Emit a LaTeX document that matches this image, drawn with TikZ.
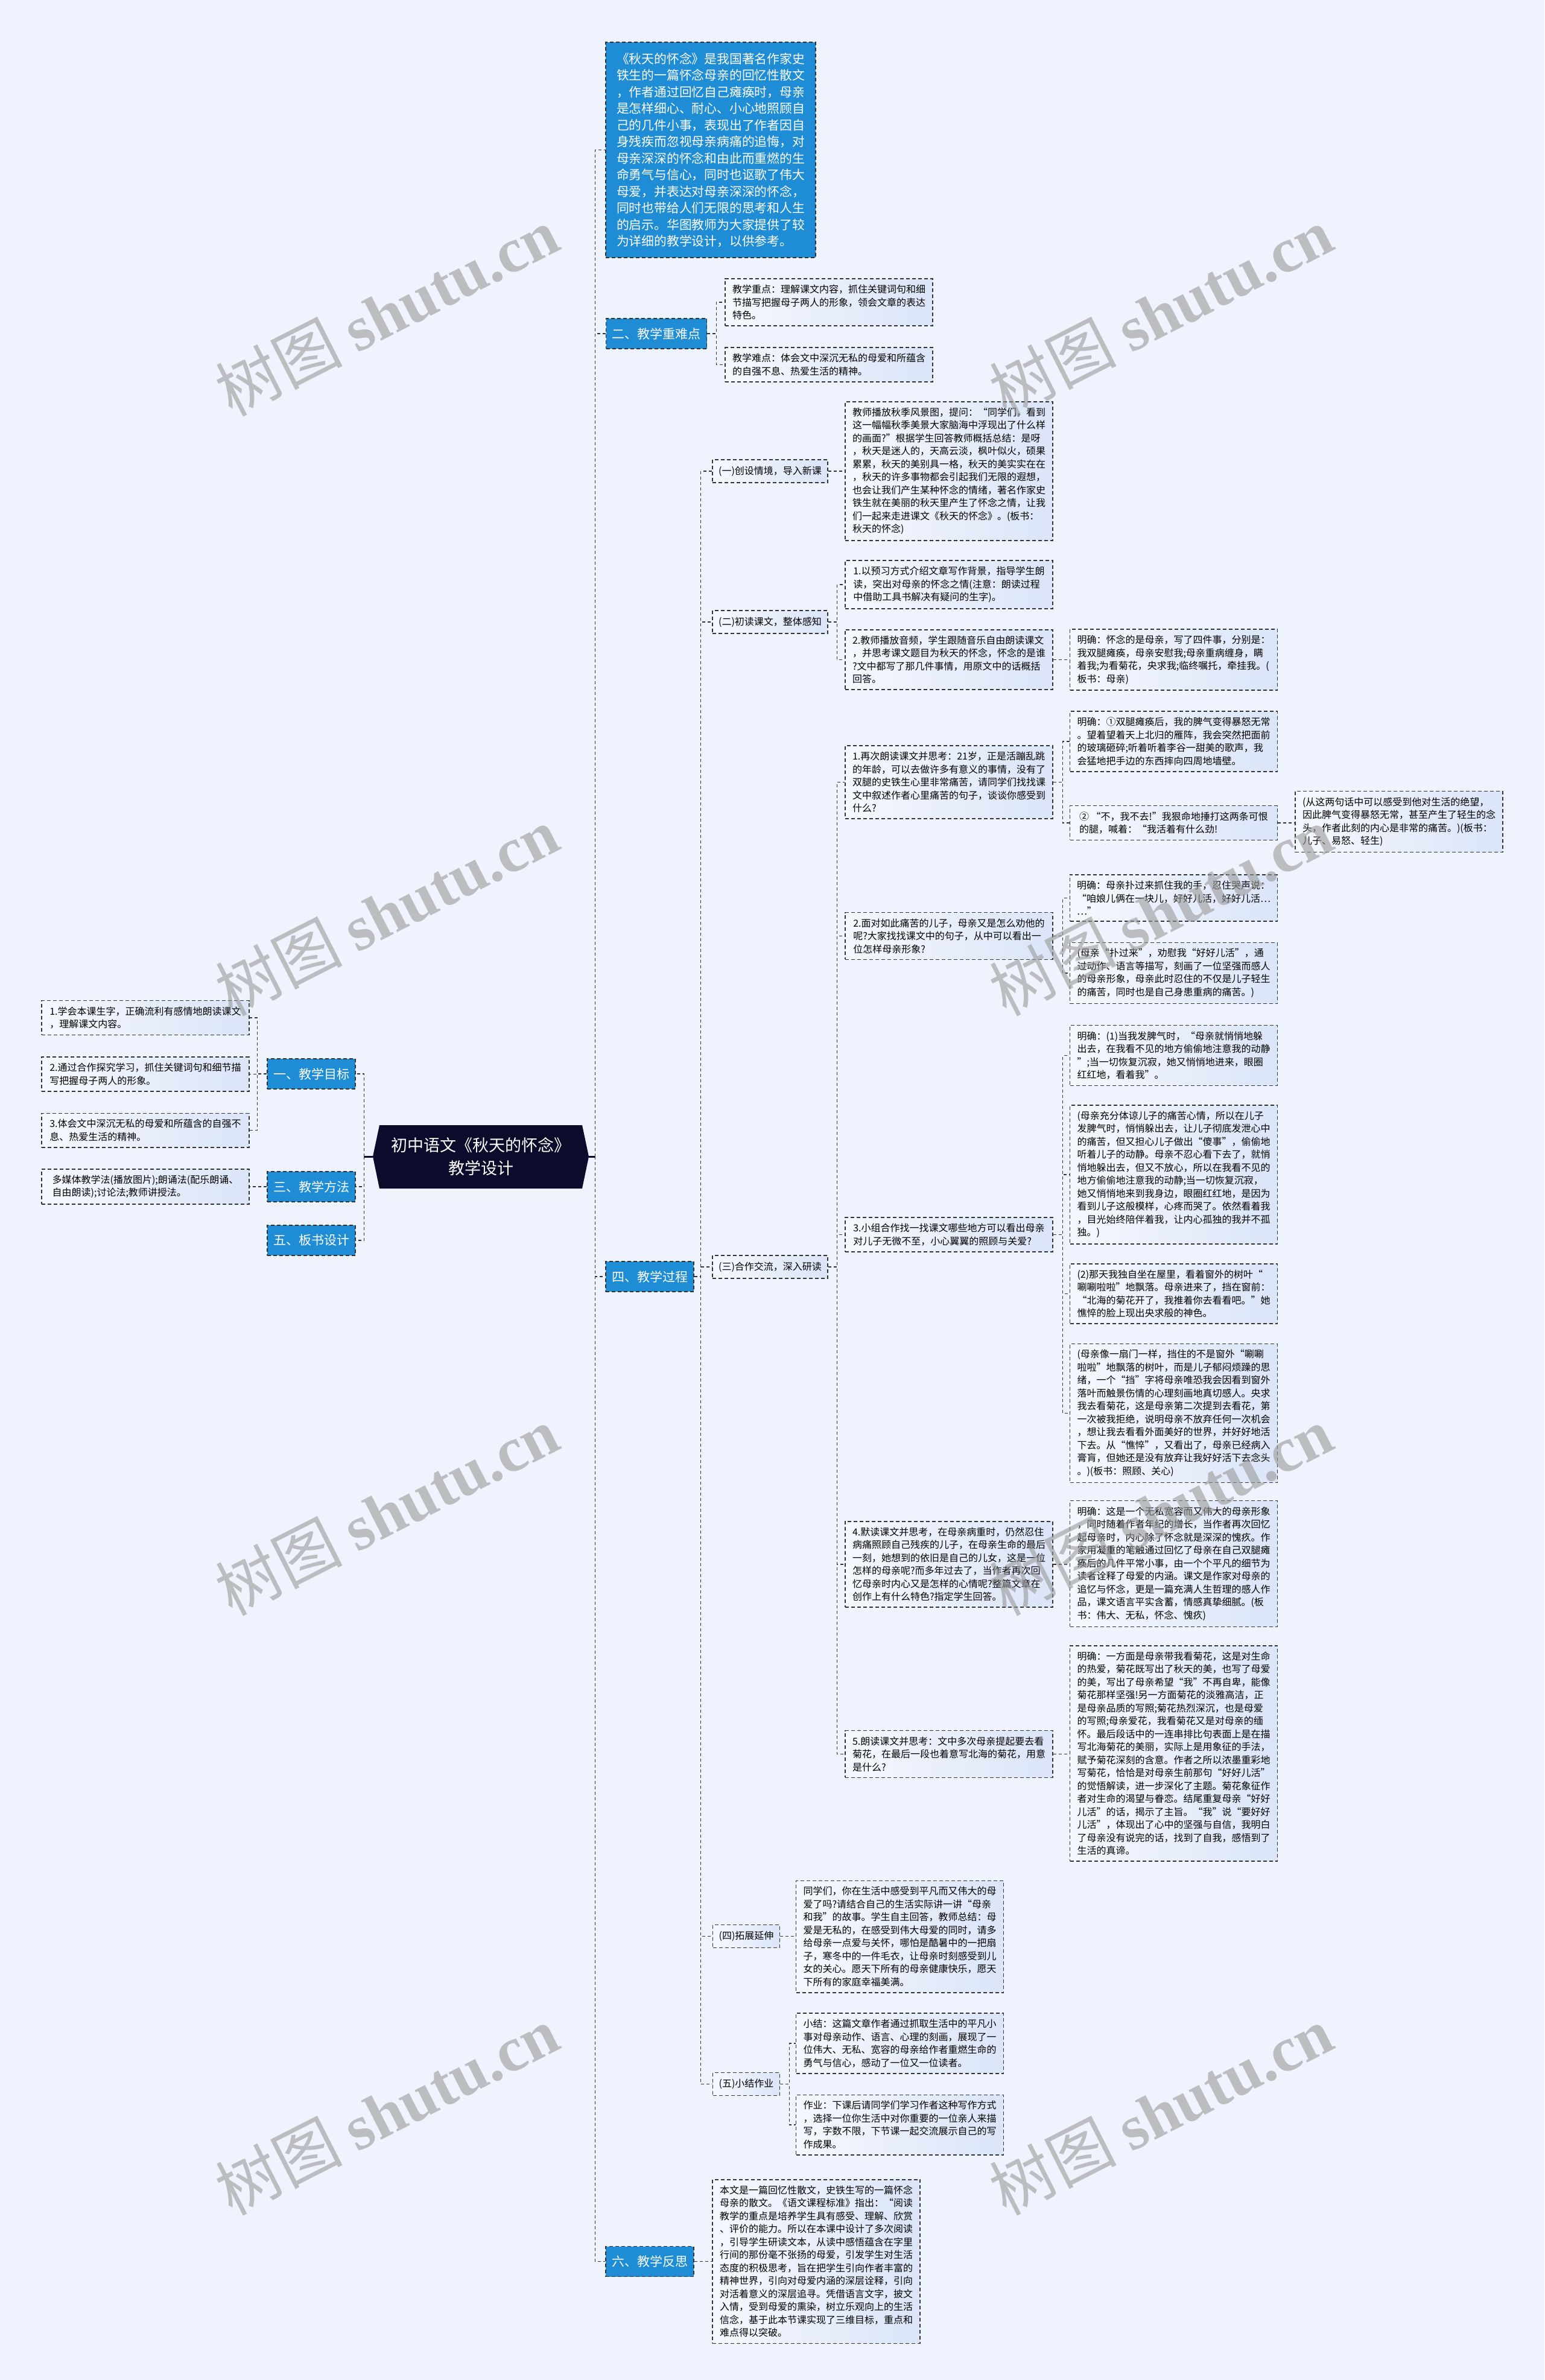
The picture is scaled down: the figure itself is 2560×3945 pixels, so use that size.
\documentclass[tikz,border=0pt]{standalone}
\usepackage{fontspec}
\setmainfont{Noto Sans CJK SC}
\newfontfamily\wmlat{Liberation Serif}
\definecolor{pagebg}{RGB}{238,243,253}
\definecolor{topicblue}{RGB}{31,141,214}
\definecolor{rootnavy}{RGB}{11,11,43}
\definecolor{noteA}{RGB}{245,248,254}
\definecolor{noteB}{RGB}{219,229,248}
\definecolor{dashgray}{RGB}{51,51,51}

\begin{document}
\begin{tikzpicture}[
  x=1pt, y=-1pt,
  font=\fontsize{16}{21.5}\selectfont,
  topicbox/.style={draw=dashgray, line width=1.6pt, dash pattern=on 6pt off 4pt,
              fill=topicblue, text=white, font=\fontsize{21}{26}\selectfont,
              inner xsep=10pt, minimum height=50pt},
  introbox/.style={topicbox, align=left, font=\fontsize{20.8}{27.5}\selectfont,
              minimum width=348pt, inner ysep=17pt},
  subbox/.style={draw=dashgray, line width=1.6pt, dash pattern=on 6pt off 4pt,
              left color=noteA, right color=noteB, inner xsep=10pt, minimum height=38pt},
  notebox/.style={subbox, align=left, minimum width=344pt, inner ysep=10pt},
  lnk/.style={dashgray, line width=1.3pt, dash pattern=on 5pt off 4pt},
  stemln/.style={rootnavy, line width=3pt},
  wm/.style={rotate=27, text=black!40, opacity=0.6, font=\fontsize{105}{105}\selectfont}
]
\fill[pagebg] (0,0) rectangle (2560,3945);
\useasboundingbox (0,0) rectangle (2560,3945);

\fill[rootnavy] (618,1917) -- (629,1865) -- (965,1865) -- (976,1917) -- (965,1970) -- (629,1970) -- cycle;
\node[text=white, align=center, font=\fontsize{27}{38}\selectfont, minimum width=358pt, minimum height=105pt] (root) at (797,1917) {初中语文《秋天的怀念》\\教学设计};

\node[introbox] (intro) at (1178,248.5) {《秋天的怀念》是我国著名作家史\\铁生的一篇怀念母亲的回忆性散文\\，作者通过回忆自己瘫痪时，母亲\\是怎样细心、耐心、小心地照顾自\\己的几件小事，表现出了作者因自\\身残疾而忽视母亲病痛的追悔，对\\母亲深深的怀念和由此而重燃的生\\命勇气与信心，同时也讴歌了伟大\\母爱，并表达对母亲深深的怀念，\\同时也带给人们无限的思考和人生\\的启示。华图教师为大家提供了较\\为详细的教学设计，以供参考。};
\node[topicbox] (t2) at (1088,553) {二、教学重难点};
\node[topicbox] (t4) at (1077,2116) {四、教学过程};
\node[topicbox] (t6) at (1077,3748.5) {六、教学反思};
\node[topicbox] (t1) at (516,1780) {一、教学目标};
\node[topicbox] (t3) at (516,1967) {三、教学方法};
\node[topicbox] (t5) at (516,2056) {五、板书设计};

\node[notebox] (g1) at (241,1687) {1.学会本课生字，正确流利有感情地朗读课文\\，理解课文内容。};
\node[notebox] (g2) at (241,1780.5) {2.通过合作探究学习，抓住关键词句和细节描\\写把握母子两人的形象。};
\node[notebox] (g3) at (241,1873.5) {3.体会文中深沉无私的母爱和所蕴含的自强不\\息、热爱生活的精神。};
\node[notebox] (m1) at (241,1967) {多媒体教学法(播放图片);朗诵法(配乐朗诵、\\自由朗读);讨论法;教师讲授法。};

\node[notebox] (k1) at (1374,501) {教学重点：理解课文内容，抓住关键词句和细\\节描写把握母子两人的形象，领会文章的表达\\特色。};
\node[notebox] (k2) at (1374,604.5) {教学难点：体会文中深沉无私的母爱和所蕴含\\的自强不息、热爱生活的精神。};

\node[subbox] (s1) at (1276.5,781) {(一)创设情境，导入新课};
\node[subbox] (s2) at (1276.5,1031) {(二)初读课文，整体感知};
\node[subbox] (s3) at (1276.5,2100) {(三)合作交流，深入研读};
\node[subbox] (s4) at (1237,3209.5) {(四)拓展延伸};
\node[subbox] (s5) at (1237,3454.5) {(五)小结作业};

\node[notebox] (n1) at (1573,781) {教师播放秋季风景图，提问：“同学们，看到\\这一幅幅秋季美景大家脑海中浮现出了什么样\\的画面?”根据学生回答教师概括总结：是呀\\，秋天是迷人的，天高云淡，枫叶似火，硕果\\累累，秋天的美别具一格，秋天的美实实在在\\，秋天的许多事物都会引起我们无限的遐想，\\也会让我们产生某种怀念的情绪，著名作家史\\铁生就在美丽的秋天里产生了怀念之情，让我\\们一起来走进课文《秋天的怀念》。(板书：\\秋天的怀念)};
\node[notebox] (n2a) at (1573,969) {1.以预习方式介绍文章写作背景，指导学生朗\\读，突出对母亲的怀念之情(注意：朗读过程\\中借助工具书解决有疑问的生字)。};
\node[notebox] (n2b) at (1573,1093.5) {2.教师播放音频，学生跟随音乐自由朗读课文\\，并思考课文题目为秋天的怀念，怀念的是谁\\?文中都写了那几件事情，用原文中的话概括\\回答。};
\node[notebox] (n2c) at (1945.5,1093.5) {明确：怀念的是母亲，写了四件事，分别是：\\我双腿瘫痪，母亲安慰我;母亲重病缠身，瞒\\着我;为看菊花，央求我;临终嘱托，牵挂我。(\\板书：母亲)};

\node[notebox] (q1) at (1573,1296.5) {1.再次朗读课文并思考：21岁，正是活蹦乱跳\\的年龄，可以去做许多有意义的事情，没有了\\双腿的史铁生心里非常痛苦，请同学们找找课\\文中叙述作者心里痛苦的句子，谈谈你感受到\\什么?};
\node[notebox] (q1a) at (1945.5,1229) {明确：①双腿瘫痪后，我的脾气变得暴怒无常\\。望着望着天上北归的雁阵，我会突然把面前\\的玻璃砸碎;听着听着李谷一甜美的歌声，我\\会猛地把手边的东西摔向四周地墙壁。};
\node[notebox] (q1b) at (1945.5,1364) {②~“不，我不去!”我狠命地捶打这两条可恨\\的腿，喊着：“我活着有什么劲!};
\node[notebox] (q1c) at (2319,1362) {(从这两句话中可以感受到他对生活的绝望，\\因此脾气变得暴怒无常，甚至产生了轻生的念\\头，作者此刻的内心是非常的痛苦。)(板书：\\儿子、易怒、轻生)};
\node[notebox] (q2) at (1573,1551.5) {2.面对如此痛苦的儿子，母亲又是怎么劝他的\\呢?大家找找课文中的句子，从中可以看出一\\位怎样母亲形象?};
\node[notebox] (q2a) at (1945.5,1488.5) {明确：母亲扑过来抓住我的手，忍住哭声说：\\“咱娘儿俩在一块儿，好好儿活，好好儿活…\\…”};
\node[notebox] (q2b) at (1945.5,1613) {(母亲“扑过来”，劝慰我“好好儿活”，通\\过动作、语言等描写，刻画了一位坚强而感人\\的母亲形象，母亲此时忍住的不仅是儿子轻生\\的痛苦，同时也是自己身患重病的痛苦。)};
\node[notebox] (q3) at (1573,2046.5) {3.小组合作找一找课文哪些地方可以看出母亲\\对儿子无微不至，小心翼翼的照顾与关爱?};
\node[notebox] (q3a) at (1945.5,1749.5) {明确：(1)当我发脾气时，“母亲就悄悄地躲\\出去，在我看不见的地方偷偷地注意我的动静\\”;当一切恢复沉寂，她又悄悄地进来，眼圈\\红红地，看着我”。};
\node[notebox] (q3b) at (1945.5,1947) {(母亲充分体谅儿子的痛苦心情，所以在儿子\\发脾气时，悄悄躲出去，让儿子彻底发泄心中\\的痛苦，但又担心儿子做出“傻事”，偷偷地\\听着儿子的动静。母亲不忍心看下去了，就悄\\悄地躲出去，但又不放心，所以在我看不见的\\地方偷偷地注意我的动静;当一切恢复沉寂，\\她又悄悄地来到我身边，眼圈红红地，是因为\\看到儿子这般模样，心疼而哭了。依然看着我\\，目光始终陪伴着我，让内心孤独的我并不孤\\独。)};
\node[notebox] (q3c) at (1945.5,2144.5) {(2)那天我独自坐在屋里，看着窗外的树叶“\\唰唰啦啦”地飘落。母亲进来了，挡在窗前：\\“北海的菊花开了，我推着你去看看吧。”她\\憔悴的脸上现出央求般的神色。};
\node[notebox] (q3d) at (1945.5,2342.5) {(母亲像一扇门一样，挡住的不是窗外“唰唰\\啦啦”地飘落的树叶，而是儿子郁闷烦躁的思\\绪，一个“挡”字将母亲唯恐我会因看到窗外\\落叶而触景伤情的心理刻画地真切感人。央求\\我去看菊花，这是母亲第二次提到去看花，第\\一次被我拒绝，说明母亲不放弃任何一次机会\\，想让我去看看外面美好的世界，并好好地活\\下去。从“憔悴”，又看出了，母亲已经病入\\膏肓，但她还是没有放弃让我好好活下去念头\\。)(板书：照顾、关心)};
\node[notebox] (q4) at (1573,2593) {4.默读课文并思考，在母亲病重时，仍然忍住\\病痛照顾自己残疾的儿子，在母亲生命的最后\\一刻，她想到的依旧是自己的儿女，这是一位\\怎样的母亲呢?而多年过去了，当作者再次回\\忆母亲时内心又是怎样的心情呢?整篇文章在\\创作上有什么特色?指定学生回答。};
\node[notebox] (q4a) at (1945.5,2592) {明确：这是一个无私宽容而又伟大的母亲形象\\，同时随着作者年纪的增长，当作者再次回忆\\起母亲时，内心除了怀念就是深深的愧疚。作\\家用凝重的笔触通过回忆了母亲在自己双腿瘫\\痪后的几件平常小事，由一个个平凡的细节为\\读者诠释了母爱的内涵。课文是作家对母亲的\\追忆与怀念，更是一篇充满人生哲理的感人作\\品，课文语言平实含蓄，情感真挚细腻。(板\\书：伟大、无私，怀念、愧疚)};
\node[notebox] (q5) at (1573,2907.5) {5.朗读课文并思考：文中多次母亲提起要去看\\菊花，在最后一段也着意写北海的菊花，用意\\是什么?};
\node[notebox] (q5a) at (1945.5,2906.5) {明确：一方面是母亲带我看菊花，这是对生命\\的热爱，菊花既写出了秋天的美，也写了母爱\\的美，写出了母亲希望“我”不再自卑，能像\\菊花那样坚强!另一方面菊花的淡雅高洁，正\\是母亲品质的写照;菊花热烈深沉，也是母爱\\的写照;母亲爱花，我看菊花又是对母亲的缅\\怀。最后段话中的一连串排比句表面上是在描\\写北海菊花的美丽，实际上是用象征的手法，\\赋予菊花深刻的含意。作者之所以浓墨重彩地\\写菊花，恰恰是对母亲生前那句“好好儿活”\\的觉悟解读，进一步深化了主题。菊花象征作\\者对生命的渴望与眷恋。结尾重复母亲“好好\\儿活”的话，揭示了主旨。“我”说“要好好\\儿活”，体现出了心中的坚强与自信，我明白\\了母亲没有说完的话，找到了自我，感悟到了\\生活的真谛。};

\node[notebox] (e4) at (1491.5,3210) {同学们，你在生活中感受到平凡而又伟大的母\\爱了吗?请结合自己的生活实际讲一讲“母亲\\和我”的故事。学生自主回答，教师总结：母\\爱是无私的，在感受到伟大母爱的同时，请多\\给母亲一点爱与关怀，哪怕是酷暑中的一把扇\\子，寒冬中的一件毛衣，让母亲时刻感受到儿\\女的关心。愿天下所有的母亲健康快乐，愿天\\下所有的家庭幸福美满。};
\node[notebox] (e5a) at (1491.5,3387) {小结：这篇文章作者通过抓取生活中的平凡小\\事对母亲动作、语言、心理的刻画，展现了一\\位伟大、无私、宽容的母亲给作者重燃生命的\\勇气与信心，感动了一位又一位读者。};
\node[notebox] (e5b) at (1491.5,3522) {作业：下课后请同学们学习作者这种写作方式\\，选择一位你生活中对你重要的一位亲人来描\\写，字数不限，下节课一起交流展示自己的写\\作成果。};
\node[notebox] (r6) at (1353,3748.5) {本文是一篇回忆性散文，史铁生写的一篇怀念\\母亲的散文。《语文课程标准》指出：“阅读\\教学的重点是培养学生具有感受、理解、欣赏\\、评价的能力。所以在本课中设计了多次阅读\\，引导学生研读文本，从读中感悟蕴含在字里\\行间的那份毫不张扬的母爱，引发学生对生活\\态度的积极思考，旨在把学生引向作者丰富的\\精神世界，引向对母爱内涵的深层诠释，引向\\对活着意义的深层追寻。凭借语言文字，披文\\入情，受到母爱的熏染，树立乐观向上的生活\\信念，基于此本节课实现了三维目标，重点和\\难点得以突破。};

\draw[stemln] (root.east) -- ++(10,0) coordinate (rj);
\draw[stemln] (root.west) -- ++(-14,0) coordinate (lj);
\draw[lnk] (rj) |- (intro.west);
\draw[lnk] (rj) |- (t2.west);
\draw[lnk] (rj) |- (t4.west);
\draw[lnk] (rj) |- (t6.west);
\draw[lnk] (lj) |- (t1.east);
\draw[lnk] (lj) |- (t3.east);
\draw[lnk] (lj) |- (t5.east);
\draw[lnk] (t1.west) -- ++(-16,0) |- (g1.east);
\draw[lnk] (t1.west) -- ++(-16,0) |- (g2.east);
\draw[lnk] (t1.west) -- ++(-16,0) |- (g3.east);
\draw[lnk] (t3.west) -- (t3.west -| m1.east);
\draw[lnk] (t2.east) -- ++(15,0) |- (k1.west);
\draw[lnk] (t2.east) -- ++(15,0) |- (k2.west);
\draw[lnk] (t4.east) -- ++(11,0) |- (s1.west);
\draw[lnk] (t4.east) -- ++(11,0) |- (s2.west);
\draw[lnk] (t4.east) -- ++(11,0) |- (s3.west);
\draw[lnk] (t4.east) -- ++(11,0) |- (s4.west);
\draw[lnk] (t4.east) -- ++(11,0) |- (s5.west);
\draw[lnk] (s1.east) -- (s1.east -| n1.west);
\draw[lnk] (s2.east) -- ++(15,0) |- (n2a.west);
\draw[lnk] (s2.east) -- ++(15,0) |- (n2b.west);
\draw[lnk] (n2b.east) -- (n2b.east -| n2c.west);
\draw[lnk] (s3.east) -- ++(15,0) |- (q1.west);
\draw[lnk] (s3.east) -- ++(15,0) |- (q2.west);
\draw[lnk] (s3.east) -- ++(15,0) |- (q3.west);
\draw[lnk] (s3.east) -- ++(15,0) |- (q4.west);
\draw[lnk] (s3.east) -- ++(15,0) |- (q5.west);
\draw[lnk] (q1.east) -- ++(16,0) |- (q1a.west);
\draw[lnk] (q1.east) -- ++(16,0) |- (q1b.west);
\draw[lnk] (q1b.east) -- (q1b.east -| q1c.west);
\draw[lnk] (q2.east) -- ++(16,0) |- (q2a.west);
\draw[lnk] (q2.east) -- ++(16,0) |- (q2b.west);
\draw[lnk] (q3.east) -- ++(16,0) |- (q3a.west);
\draw[lnk] (q3.east) -- ++(16,0) |- (q3b.west);
\draw[lnk] (q3.east) -- ++(16,0) |- (q3c.west);
\draw[lnk] (q3.east) -- ++(16,0) |- (q3d.west);
\draw[lnk] (q4.east) -- (q4.east -| q4a.west);
\draw[lnk] (q5.east) -- (q5.east -| q5a.west);
\draw[lnk] (s4.east) -- (s4.east -| e4.west);
\draw[lnk] (s5.east) -- ++(15,0) |- (e5a.west);
\draw[lnk] (s5.east) -- ++(15,0) |- (e5b.west);
\draw[lnk] (t6.east) -- (t6.east -| r6.west);

\foreach \wx/\wy/\i in {641/516/1, 1924/516/2, 641/1510/3, 1924/1510/4, 641/2504/5, 1924/2504/6, 641/3498/7, 1924/3498/8}
  \node[wm] (wm\i) at (\wx,\wy) {树图 {\wmlat\bfseries shutu.cn}};
\end{tikzpicture}
\end{document}
